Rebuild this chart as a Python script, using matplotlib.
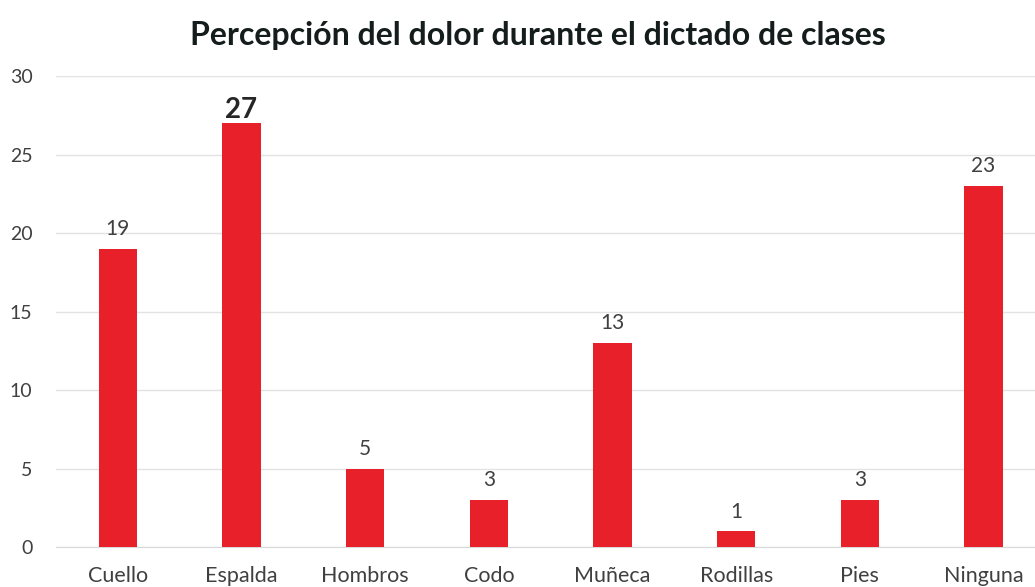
import matplotlib
matplotlib.use("Agg")
import matplotlib.pyplot as plt

categories = ["Cuello", "Espalda", "Hombros", "Codo", "Muñeca", "Rodillas", "Pies", "Ninguna"]
values = [19, 27, 5, 3, 13, 1, 3, 23]
yticks = [0, 5, 10, 15, 20, 25, 30]
title = "Percepción del dolor durante el dictado de clases"

plt.rcParams['font.family'] = ['Lato', 'DejaVu Sans']

fig = plt.figure(figsize=(10.35, 5.87), dpi=100)
ax = fig.add_axes([0.0541, 0.0681, 0.956, 0.8024])

x = list(range(len(categories)))
bars = ax.bar(x, values, width=0.31, color="#E8202A", zorder=3)

ax.set_xlim(-0.5, len(categories) - 0.5)
ax.set_ylim(0, 30)
ax.set_yticks(yticks)
ax.set_xticks(x)
ax.set_xticklabels(categories, fontsize=15.5, color="#404040")
ax.tick_params(axis='y', labelsize=14, labelcolor="#404040", length=0, pad=17)
ax.tick_params(axis='x', length=0, pad=14)
ax.grid(axis='y', color="#E3E3E3", linewidth=1, zorder=0)
for s in ["top", "right", "left"]:
    ax.spines[s].set_visible(False)
ax.spines["bottom"].set_color("#D9D9D9")

for xi, v in zip(x, values):
    if v == max(values):
        ax.annotate(str(v), (xi, v), xytext=(0, 0), textcoords="offset points",
                    ha="center", va="bottom", fontsize=20, fontweight="bold", color="#262626")
    else:
        ax.annotate(str(v), (xi, v), xytext=(0, 7), textcoords="offset points",
                    ha="center", va="bottom", fontsize=15, color="#404040")

fig.text(0.52, 0.94, title, ha="center", va="center", fontsize=23, fontweight="bold", color="#141c1c")

fig.savefig("out.png", dpi=100)
